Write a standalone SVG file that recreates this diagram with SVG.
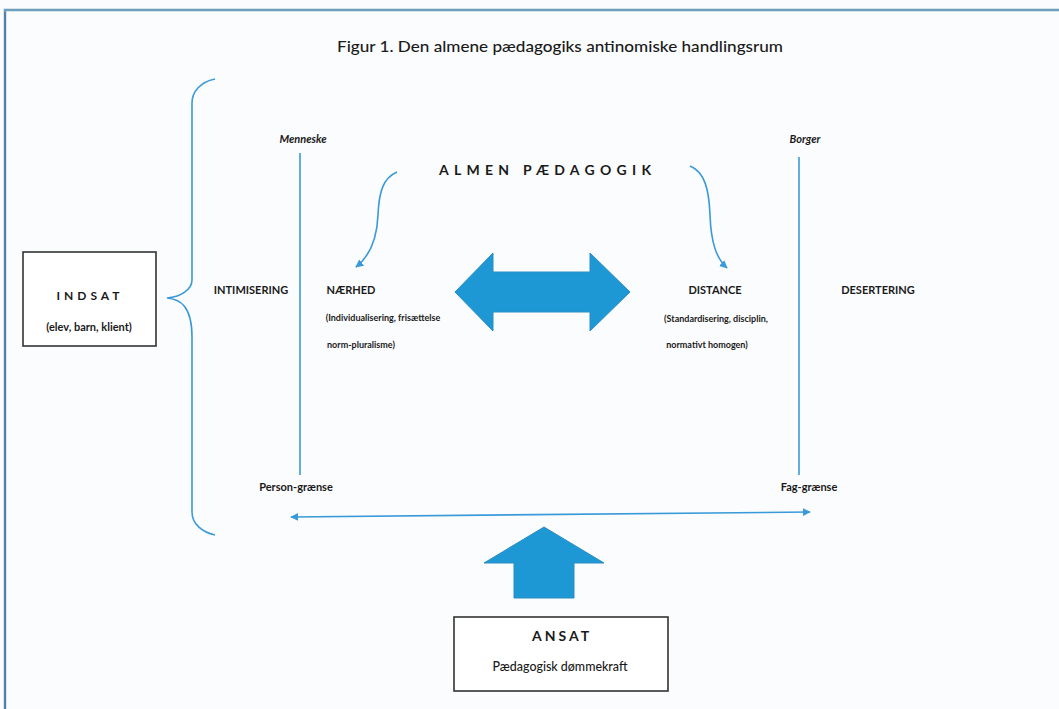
<svg xmlns="http://www.w3.org/2000/svg" width="1059" height="709" viewBox="0 0 1059 709">
<style>
  .t{font-family:Lato,"Open Sans","Liberation Sans",sans-serif;fill:#1a1a1a}
  .b{font-weight:bold}
  .line{stroke:#3a9ad9;stroke-width:1.6;fill:none}
  .shape{fill:#1e98d4;stroke:#2a8cc4;stroke-width:1}
  .box{fill:#ffffff;stroke:#333;stroke-width:1.6}
</style>
<defs>
  <marker id="ah" viewBox="0 0 10 10" refX="9" refY="5" markerWidth="5" markerHeight="5" orient="auto-start-reverse">
    <path d="M0,0 L10,5 L0,10 z" fill="#3a9ad9"/>
  </marker>
</defs>
<rect x="0" y="0" width="1059" height="709" fill="#fafcfd"/>
<path d="M5,709 V10 H1059" fill="none" stroke="#6c9fbb" stroke-width="2.5"/>
<path d="M5,12 V709" stroke="#4d76a8" stroke-width="1.5"/>

<text class="t" x="560" y="52" font-size="16" font-weight="500" text-anchor="middle" textLength="446" lengthAdjust="spacingAndGlyphs">Figur 1.  Den almene pædagogiks antinomiske handlingsrum</text>

<g id="connectors">
  <path class="line" d="M215,79 C200,82 192,92 192,103 V280 C192,290 180,297 167,298 C180,299 192,306 192,337 V512 C192,524 202,532 215,535"/>
  <line class="line" x1="300" y1="153" x2="300" y2="475"/>
  <line class="line" x1="799" y1="157" x2="799" y2="475"/>
  <path class="line" d="M291,517 L810,512" marker-start="url(#ah)" marker-end="url(#ah)" stroke-width="1.8"/>
  <path class="line" d="M397,172 C383,178 379,192 378,215 C377,240 370,256 356,267" marker-end="url(#ah)" stroke-width="2"/>
  <path class="line" d="M690,166 C705,172 709,190 710,215 C711,242 716,258 727,268" marker-end="url(#ah)" stroke-width="2"/>
  <path class="shape" d="M455,292 L493,253 L493,272 L590,272 L590,253 L630,292 L590,331 L590,312 L493,312 L493,331 Z"/>
  <path class="shape" d="M544,527 L604,563 L574,563 L574,598 L514,598 L514,563 L484,563 Z"/>
</g>

<g id="indsat">
  <rect class="box" x="23" y="252" width="133" height="94"/>
  <text class="t b" x="90" y="300" font-size="12" text-anchor="middle" letter-spacing="4">INDSAT</text>
  <text class="t b" x="89" y="331" font-size="11" text-anchor="middle">(elev, barn, klient)</text>
</g>

<g id="ansat">
  <rect class="box" x="454" y="617" width="214" height="74"/>
  <text class="t b" x="562" y="641" font-size="14" text-anchor="middle" letter-spacing="3">ANSAT</text>
  <text class="t" x="560" y="671" font-size="13" font-weight="500" text-anchor="middle" textLength="135" lengthAdjust="spacingAndGlyphs">Pædagogisk dømmekraft</text>
</g>

<g id="menneske"><text class="t b" x="303" y="143" font-size="11" font-style="italic" text-anchor="middle">Menneske</text></g>
<g id="borger"><text class="t b" x="805" y="143" font-size="11" font-style="italic" text-anchor="middle">Borger</text></g>

<g id="almen"><text class="t b" x="548" y="175" font-size="14" text-anchor="middle" letter-spacing="6" textLength="218">ALMEN   PÆDAGOGIK</text></g>

<g id="intimisering"><text class="t b" x="251" y="294" font-size="11" text-anchor="middle">INTIMISERING</text></g>
<g id="naerhed">
  <text class="t b" x="351" y="294" font-size="11" text-anchor="middle">NÆRHED</text>
  <text class="t b" x="383" y="321" font-size="9" text-anchor="middle">(Individualisering, frisættelse</text>
  <text class="t b" x="361" y="348" font-size="9" text-anchor="middle">norm-pluralisme)</text>
</g>
<g id="distance">
  <text class="t b" x="715" y="294" font-size="11" text-anchor="middle">DISTANCE</text>
  <text class="t b" x="716" y="322" font-size="9" text-anchor="middle">(Standardisering, disciplin,</text>
  <text class="t b" x="707" y="348" font-size="9" text-anchor="middle">normativt homogen)</text>
</g>
<g id="desertering"><text class="t b" x="878" y="294" font-size="11" text-anchor="middle">DESERTERING</text></g>

<g id="persongraense"><text class="t b" x="296" y="491" font-size="11" text-anchor="middle">Person-grænse</text></g>
<g id="faggraense"><text class="t b" x="809" y="491" font-size="11" text-anchor="middle">Fag-grænse</text></g>
</svg>
